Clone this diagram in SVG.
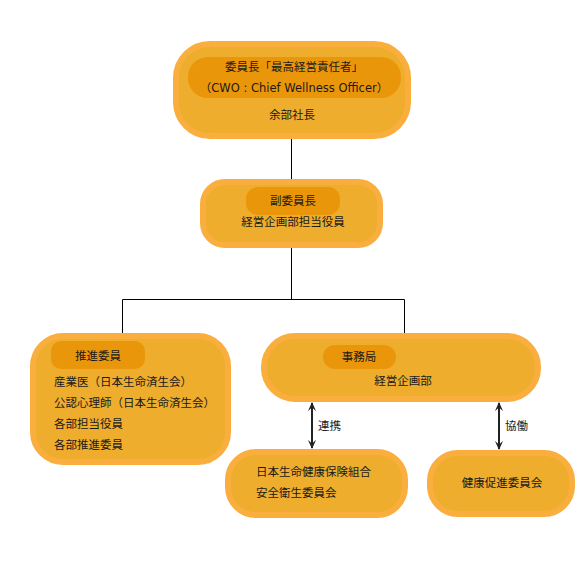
<svg xmlns="http://www.w3.org/2000/svg" width="578" height="585" viewBox="0 0 578 585">
<defs>
<style>
.box{fill:#EEAD2D;stroke:#F9AE3E;stroke-width:6}
.tag{fill:#EA960A}
text{font-family:"DejaVu Sans","Noto Sans CJK JP",sans-serif;font-size:11.5px;fill:#1a1a1a}
.c{text-anchor:middle}
.ln{stroke:#000;stroke-width:1;fill:none}
.ar{stroke:#222;stroke-width:2;fill:none}
</style>
<marker id="ah" viewBox="0 0 10 10" refX="9" refY="5" markerWidth="9" markerHeight="9" orient="auto-start-reverse" markerUnits="userSpaceOnUse">
<path d="M0,0.5 L10,5 L0,9.5 L4,5 Z" fill="#222"/>
</marker>
</defs>
<rect width="578" height="585" fill="#fff"/>
<g id="connectors">
<line class="ln" x1="291.5" y1="139" x2="291.5" y2="181"/>
<polyline class="ln" points="291.5,247 291.5,299.5"/>
<polyline class="ln" points="122.5,335 122.5,299.5 404.5,299.5 404.5,335"/>
<line class="ar" x1="312" y1="403" x2="312" y2="448" marker-start="url(#ah)" marker-end="url(#ah)"/>
<line class="ar" x1="499" y1="403" x2="499" y2="449" marker-start="url(#ah)" marker-end="url(#ah)"/>
<text x="318" y="430">連携</text>
<text x="505" y="430">協働</text>
</g>
<g id="ceo">
<rect class="box" x="176" y="44" width="232" height="92" rx="34"/>
<rect class="tag" x="188" y="57" width="213" height="41" rx="20"/>
<text class="c" x="294" y="71">委員長「最高経営責任者」</text>
<text class="c" x="294" y="92">（CWO : Chief Wellness Officer）</text>
<text class="c" x="292" y="119">余部社長</text>
</g>
<g id="vice">
<rect class="box" x="203" y="182" width="177" height="63" rx="22"/>
<rect class="tag" x="246" y="187" width="94" height="28" rx="12"/>
<text class="c" x="293" y="205">副委員長</text>
<text class="c" x="293" y="226">経営企画部担当役員</text>
</g>
<g id="promo">
<rect class="box" x="33" y="336" width="195" height="126" rx="30"/>
<rect class="tag" x="51" y="341" width="94" height="28" rx="10"/>
<text class="c" x="98" y="360">推進委員</text>
<text x="54" y="386">産業医（日本生命済生会）</text>
<text x="54" y="407">公認心理師（日本生命済生会）</text>
<text x="54" y="428">各部担当役員</text>
<text x="54" y="449">各部推進委員</text>
</g>
<g id="office">
<rect class="box" x="264" y="336" width="274" height="63" rx="31"/>
<rect class="tag" x="323" y="345" width="73" height="24" rx="12"/>
<text class="c" x="359" y="361">事務局</text>
<text class="c" x="403" y="385">経営企画部</text>
</g>
<g id="union">
<rect class="box" x="228" y="452" width="177" height="63" rx="28"/>
<text x="256" y="476">日本生命健康保険組合</text>
<text x="256" y="497">安全衛生委員会</text>
</g>
<g id="health">
<rect class="box" x="430" y="453" width="142" height="61" rx="28"/>
<text class="c" x="502" y="487">健康促進委員会</text>
</g>
</svg>
